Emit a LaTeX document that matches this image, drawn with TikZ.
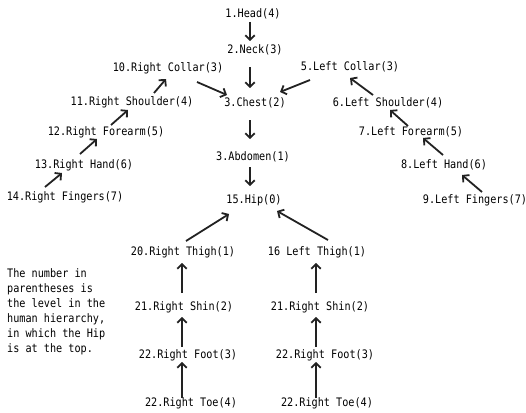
\documentclass[tikz,border=0pt]{standalone}
\usepackage{fontspec}
\usepackage{tikz}
\usetikzlibrary{arrows.meta}
\newfontfamily\gothic[FakeStretch=0.87]{DejaVu Sans Mono}
\definecolor{bonegray}{RGB}{34,34,34}

\begin{document}
\begin{tikzpicture}[x=1pt, y=-1pt]
\tikzstyle{joint} = [inner sep=0pt, text height=9pt, text depth=2.5pt, font={\gothic\fontsize{11.7}{15}\selectfont}]
\tikzstyle{arrow} = [line width=1.8pt, draw=bonegray, -{Straight Barb[length=4.5pt, width=9.5pt]}]

\useasboundingbox (0,0) rectangle (526,412);

% spine
\node (head) [joint] at (253,14) {1.Head(4)};
\node (neck) [joint] at (255,50) {2.Neck(3)};
\node (chest) [joint] at (255,103) {3.Chest(2)};
\node (abdomen) [joint] at (253,157) {3.Abdomen(1)};
\node (hip) [joint] at (254,200) {15.Hip(0)};

% right arm
\node (rcollar) [joint] at (168,68) {10.Right Collar(3)};
\node (rshoulder) [joint] at (132,102) {11.Right Shoulder(4)};
\node (rforearm) [joint] at (106,132) {12.Right Forearm(5)};
\node (rhand) [joint] at (84,165) {13.Right Hand(6)};
\node (rfingers) [joint] at (65,197) {14.Right Fingers(7)};

% left arm
\node (lcollar) [joint] at (350,67) {5.Left Collar(3)};
\node (lshoulder) [joint] at (388,103) {6.Left Shoulder(4)};
\node (lforearm) [joint] at (411,132) {7.Left Forearm(5)};
\node (lhand) [joint] at (444,165) {8.Left Hand(6)};
\node (lfingers) [joint] at (475,200) {9.Left Fingers(7)};

% legs
\node (rthigh) [joint] at (183,252) {20.Right Thigh(1)};
\node (rshin) [joint] at (184,307) {21.Right Shin(2)};
\node (rfoot) [joint] at (188,355) {22.Right Foot(3)};
\node (rtoe) [joint] at (191,403) {22.Right Toe(4)};
\node (lthigh) [joint] at (317,252) {16 Left Thigh(1)};
\node (lshin) [joint] at (320,307) {21.Right Shin(2)};
\node (lfoot) [joint] at (325,355) {22.Right Foot(3)};
\node (ltoe) [joint] at (327,403) {22.Right Toe(4)};

\node (note) [joint, text height=, text depth=, align=left, anchor=north west] at (7,268)
  {The number in\\parentheses is\\the level in the\\human hierarchy,\\in which the Hip\\is at the top.};

% down the spine
\draw [arrow] ([shift={(-3,8)}]head.center) -- ([shift={(-5,-9)}]neck.center);
\draw [arrow] ([shift={(-5,17)}]neck.center) -- ([shift={(-5,-15)}]chest.center);
\draw [arrow] ([shift={(-5,17)}]chest.center) -- ([shift={(-3,-18)}]abdomen.center);
\draw [arrow] ([shift={(-3,10)}]abdomen.center) -- ([shift={(-4,-14)}]hip.center);

% collars into the chest
\draw [arrow] ([shift={(29,14)}]rcollar.center) -- ([shift={(-28,-8)}]chest.center);
\draw [arrow] ([shift={(-40,13)}]lcollar.center) -- ([shift={(25,-11)}]chest.center);

% right arm upwards
\draw [arrow] ([shift={(22,-9)}]rshoulder.center) -- ([shift={(-2,11)}]rcollar.center);
\draw [arrow] ([shift={(5,-7)}]rforearm.center) -- ([shift={(-4,8)}]rshoulder.center);
\draw [arrow] ([shift={(-4,-11)}]rhand.center) -- ([shift={(-9,7)}]rforearm.center);
\draw [arrow] ([shift={(-20,-10)}]rfingers.center) -- ([shift={(-22,8)}]rhand.center);

% left arm upwards
\draw [arrow] ([shift={(-15,-8)}]lshoulder.center) -- ([shift={(0,11)}]lcollar.center);
\draw [arrow] ([shift={(-3,-6)}]lforearm.center) -- ([shift={(2,7)}]lshoulder.center);
\draw [arrow] ([shift={(-1,-10)}]lhand.center) -- ([shift={(12,6)}]lforearm.center);
\draw [arrow] ([shift={(7,-8)}]lfingers.center) -- ([shift={(18,10)}]lhand.center);

% thighs into the hip
\draw [arrow] ([shift={(3,-11)}]rthigh.center) -- ([shift={(-25,14)}]hip.center);
\draw [arrow] ([shift={(11,-12)}]lthigh.center) -- ([shift={(23,11)}]hip.center);

% legs upwards
\draw [arrow] ([shift={(-2,-14)}]rshin.center) -- ([shift={(-1,11)}]rthigh.center);
\draw [arrow] ([shift={(-6,-8)}]rfoot.center) -- ([shift={(-2,10)}]rshin.center);
\draw [arrow] ([shift={(-9,-5)}]rtoe.center) -- ([shift={(-6,7)}]rfoot.center);
\draw [arrow] ([shift={(-4,-14)}]lshin.center) -- ([shift={(-1,11)}]lthigh.center);
\draw [arrow] ([shift={(-9,-8)}]lfoot.center) -- ([shift={(-4,10)}]lshin.center);
\draw [arrow] ([shift={(-11,-5)}]ltoe.center) -- ([shift={(-9,7)}]lfoot.center);
\end{tikzpicture}
\end{document}
